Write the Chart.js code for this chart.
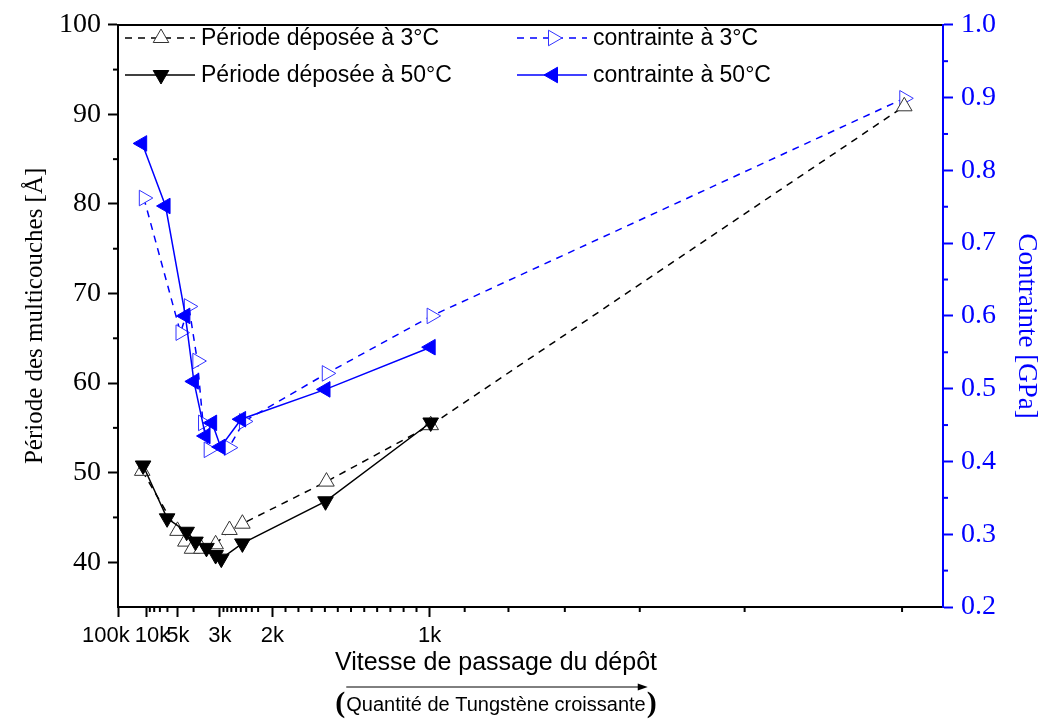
<!DOCTYPE html>
<html>
<head>
<meta charset="utf-8">
<script src="https://cdn.jsdelivr.net/npm/chart.js@4.4.0/dist/chart.umd.min.js"></script>
<style>
  html, body { margin: 0; background: #fff; }
  #wrap { width: 1042px; height: 720px; position: relative; }
</style>
</head>
<body>
<div id="wrap"><canvas id="chart"></canvas></div>
<script>
// x = 1 / vitesse (en 1/k), axe réciproque comme dans l'original
const xTicks = [0.01, 0.1, 0.2, 0.3333, 0.5, 1];
const xTickLabels = ['100k', '10k', '5k', '3k', '2k', '1k'];
const xMinor = [0.111, 0.125, 0.143, 0.167, 0.25,
  0.345, 0.357, 0.370, 0.385, 0.4, 0.417, 0.435, 0.455,
  0.542, 0.583, 0.625, 0.667, 0.708, 0.75, 0.792, 0.833, 0.875, 0.917, 0.958,
  1.111, 1.25, 1.429, 1.667, 2.0, 2.5];
const yTicks = [40, 50, 60, 70, 80, 90, 100];
const yMinor = [45, 55, 65, 75, 85, 95];
const y1Ticks = [0.2, 0.3, 0.4, 0.5, 0.6, 0.7, 0.8, 0.9, 1.0];
const y1Minor = [0.25, 0.35, 0.45, 0.55, 0.65, 0.75, 0.85, 0.95];

// Période déposée à 3°C
const per3X = [0.087, 0.199, 0.224, 0.245, 0.275, 0.320, 0.364, 0.405, 0.672, 1.003, 2.507];
const per3Y = [50.2, 43.5, 42.3, 41.5, 41.5, 42.0, 43.6, 44.3, 49.0, 55.3, 90.9];
// Période déposée à 50°C
const per50X = [0.0897, 0.166, 0.228, 0.256, 0.291, 0.320, 0.338, 0.405, 0.669, 1.003];
const per50Y = [50.8, 44.9, 43.4, 42.3, 41.6, 40.8, 40.4, 42.1, 46.8, 55.6];
// contrainte à 3°C (GPa)
const con3X = [0.092, 0.2085, 0.235, 0.262, 0.280, 0.298, 0.362, 0.410, 0.673, 1.006, 2.507];
const con3Y = [0.762, 0.577, 0.613, 0.538, 0.453, 0.416, 0.419, 0.455, 0.521, 0.600, 0.899];
// contrainte à 50°C (GPa)
const con50X = [0.0868, 0.161, 0.224, 0.251, 0.288, 0.309, 0.336, 0.401, 0.669, 1.003];
const con50Y = [0.837, 0.751, 0.600, 0.510, 0.435, 0.453, 0.420, 0.458, 0.499, 0.557];

const BLUE = '#0000ff';
const pts = (xs, ys) => xs.map((x, i) => ({ x, y: ys[i] }));

const ser = [
  { label: 'Période déposée à 3°C', data: pts(per3X, per3Y), yAxisID: 'y', order: 2,
    borderColor: '#000', borderDash: [7, 6], pointRotation: 0,
    pointBorderColor: '#333', pointBackgroundColor: '#fff', pointBorderWidth: 1 },
  { label: 'Période déposée à 50°C', data: pts(per50X, per50Y), yAxisID: 'y', order: 1,
    borderColor: '#000', borderDash: [], pointRotation: 180,
    pointBorderColor: '#000', pointBackgroundColor: '#000', pointBorderWidth: 1 },
  { label: 'contrainte à 3°C', data: pts(con3X, con3Y), yAxisID: 'y1', order: 2,
    borderColor: BLUE, borderDash: [7, 6], pointRotation: 90,
    pointBorderColor: '#3333ff', pointBackgroundColor: '#fff', pointBorderWidth: 1 },
  { label: 'contrainte à 50°C', data: pts(con50X, con50Y), yAxisID: 'y1', order: 1,
    borderColor: BLUE, borderDash: [], pointRotation: 270,
    pointBorderColor: BLUE, pointBackgroundColor: BLUE, pointBorderWidth: 1 },
];

function seg(ctx, x1, y1, x2, y2) { ctx.beginPath(); ctx.moveTo(x1, y1); ctx.lineTo(x2, y2); ctx.stroke(); }

const minorTicks = {
  id: 'minorTicks',
  afterDraw(chart) {
    const { ctx, scales: { x, y, y1 } } = chart;
    ctx.save();
    ctx.lineWidth = 2;
    ctx.strokeStyle = '#000';
    xMinor.forEach(v => { const p = x.getPixelForValue(v); seg(ctx, p, x.top, p, x.top + 5); });
    yMinor.forEach(v => { const p = y.getPixelForValue(v); seg(ctx, y.right - 5, p, y.right, p); });
    ctx.strokeStyle = BLUE;
    y1Minor.forEach(v => { const p = y1.getPixelForValue(v); seg(ctx, y1.left, p, y1.left + 5, p); });
    ctx.restore();
  }
};

// légende dans la zone du graphe, 2 colonnes x 2 lignes
const inLegend = {
  id: 'inLegend',
  afterDraw(chart) {
    const ctx = chart.ctx;
    const cols = [125, 517], rows = [38, 75];
    ctx.save();
    ser.forEach((d, i) => {
      const lx = cols[i >> 1], ly = rows[i & 1];
      ctx.strokeStyle = d.borderColor;
      ctx.lineWidth = 1.5;
      ctx.setLineDash(d.borderDash);
      seg(ctx, lx, ly, lx + 70, ly);
      ctx.setLineDash([]);
      ctx.fillStyle = d.pointBackgroundColor;
      ctx.strokeStyle = d.pointBorderColor;
      ctx.lineWidth = d.pointBorderWidth;
      Chart.helpers.drawPoint(ctx, { pointStyle: 'triangle', rotation: d.pointRotation, radius: 9, borderWidth: 1 }, lx + 36, ly);
      ctx.fillStyle = '#000';
      ctx.font = '23px "Liberation Sans"';
      ctx.textAlign = 'left';
      ctx.textBaseline = 'middle';
      ctx.fillText(d.label, lx + 76, ly + 1);
    });
    ctx.restore();
  }
};

// titre de l'axe x et la note en dessous
const bottomText = {
  id: 'bottomText',
  afterDraw(chart) {
    const ctx = chart.ctx;
    const cx = 496;
    ctx.save();
    ctx.fillStyle = '#000';
    ctx.strokeStyle = '#000';
    ctx.textBaseline = 'middle';
    ctx.textAlign = 'center';
    ctx.font = '25px "Liberation Sans"';
    ctx.fillText('Vitesse de passage du dépôt', cx, 663);
    const note = 'Quantité de Tungstène croissante';
    ctx.font = '20px "Liberation Sans"';
    ctx.fillText(note, cx, 705);
    const w = ctx.measureText(note).width;
    ctx.font = 'bold 30px "Liberation Serif"';
    ctx.textAlign = 'right';
    ctx.fillText('(', cx - w / 2 - 1, 704);
    ctx.textAlign = 'left';
    ctx.fillText(')', cx + w / 2 + 1, 704);
    ctx.lineWidth = 1;
    seg(ctx, cx - w / 2, 687, cx + w / 2 - 4, 687);
    ctx.beginPath();
    ctx.moveTo(cx + w / 2 + 2, 687);
    ctx.lineTo(cx + w / 2 - 8, 683.5);
    ctx.lineTo(cx + w / 2 - 8, 690.5);
    ctx.closePath();
    ctx.fill();
    ctx.restore();
  }
};

new Chart(document.getElementById('chart'), {
  type: 'line',
  data: {
    datasets: ser.map(d => ({
      ...d, borderWidth: 1.5, pointStyle: 'triangle', pointRadius: 9, pointHoverRadius: 9,
      fill: false, tension: 0,
    })),
  },
  options: {
    responsive: true, maintainAspectRatio: false, animation: false,
    layout: { padding: { top: 17, left: 0, right: 0, bottom: 40 } },
    plugins: { legend: { display: false }, tooltip: { enabled: false } },
    scales: {
      x: {
        type: 'linear', position: 'bottom', min: 0.01, max: 2.63,
        afterBuildTicks: s => { s.ticks = xTicks.map(v => ({ value: v })); },
        afterFit: s => { s.height = 73; },
        ticks: {
          autoSkip: false, maxRotation: 0, padding: 6, color: '#000',
          font: { family: 'Liberation Sans', size: 22 },
          callback: (v, i) => i === 0 ? xTickLabels[i] + '    ' : i === 1 ? '  ' + xTickLabels[i] : xTickLabels[i],
        },
        grid: { drawOnChartArea: false, color: '#000', tickLength: 10, tickWidth: 2 },
        border: { color: '#000', width: 2 },
      },
      x2: {
        type: 'linear', position: 'top', min: 0.01, max: 2.63,
        afterFit: s => { s.height = 0; },
        ticks: { display: false },
        grid: { display: false },
        border: { display: true, color: '#000', width: 2 },
      },
      y: {
        type: 'linear', position: 'left', min: 35, max: 100,
        afterBuildTicks: s => { s.ticks = yTicks.map(v => ({ value: v })); },
        afterFit: s => { s.width = 118; },
        ticks: { color: '#000', padding: 7, font: { family: 'Liberation Serif', size: 28 } },
        grid: { drawOnChartArea: false, color: '#000', tickLength: 10, tickWidth: 2 },
        border: { color: '#000', width: 2 },
        title: {
          display: true, text: 'Période des multicouches [Å]', color: '#000',
          font: { family: 'Liberation Serif', size: 25 }, padding: { top: 20, bottom: 0 },
        },
      },
      y1: {
        type: 'linear', position: 'right', min: 0.2, max: 1.0,
        afterBuildTicks: s => { s.ticks = y1Ticks.map(v => ({ value: v })); },
        afterFit: s => { s.width = 99; },
        ticks: { color: BLUE, padding: 8, font: { family: 'Liberation Serif', size: 28 }, callback: v => v.toFixed(1) },
        grid: { drawOnChartArea: false, color: BLUE, tickLength: 10, tickWidth: 2 },
        border: { color: BLUE, width: 2 },
        title: {
          display: true, text: '   Contrainte [GPa]', color: BLUE,
          font: { family: 'Liberation Serif', size: 27 }, padding: { top: 0, bottom: 1 },
        },
      },
    },
  },
  plugins: [minorTicks, inLegend, bottomText],
});
</script>
</body>
</html>
